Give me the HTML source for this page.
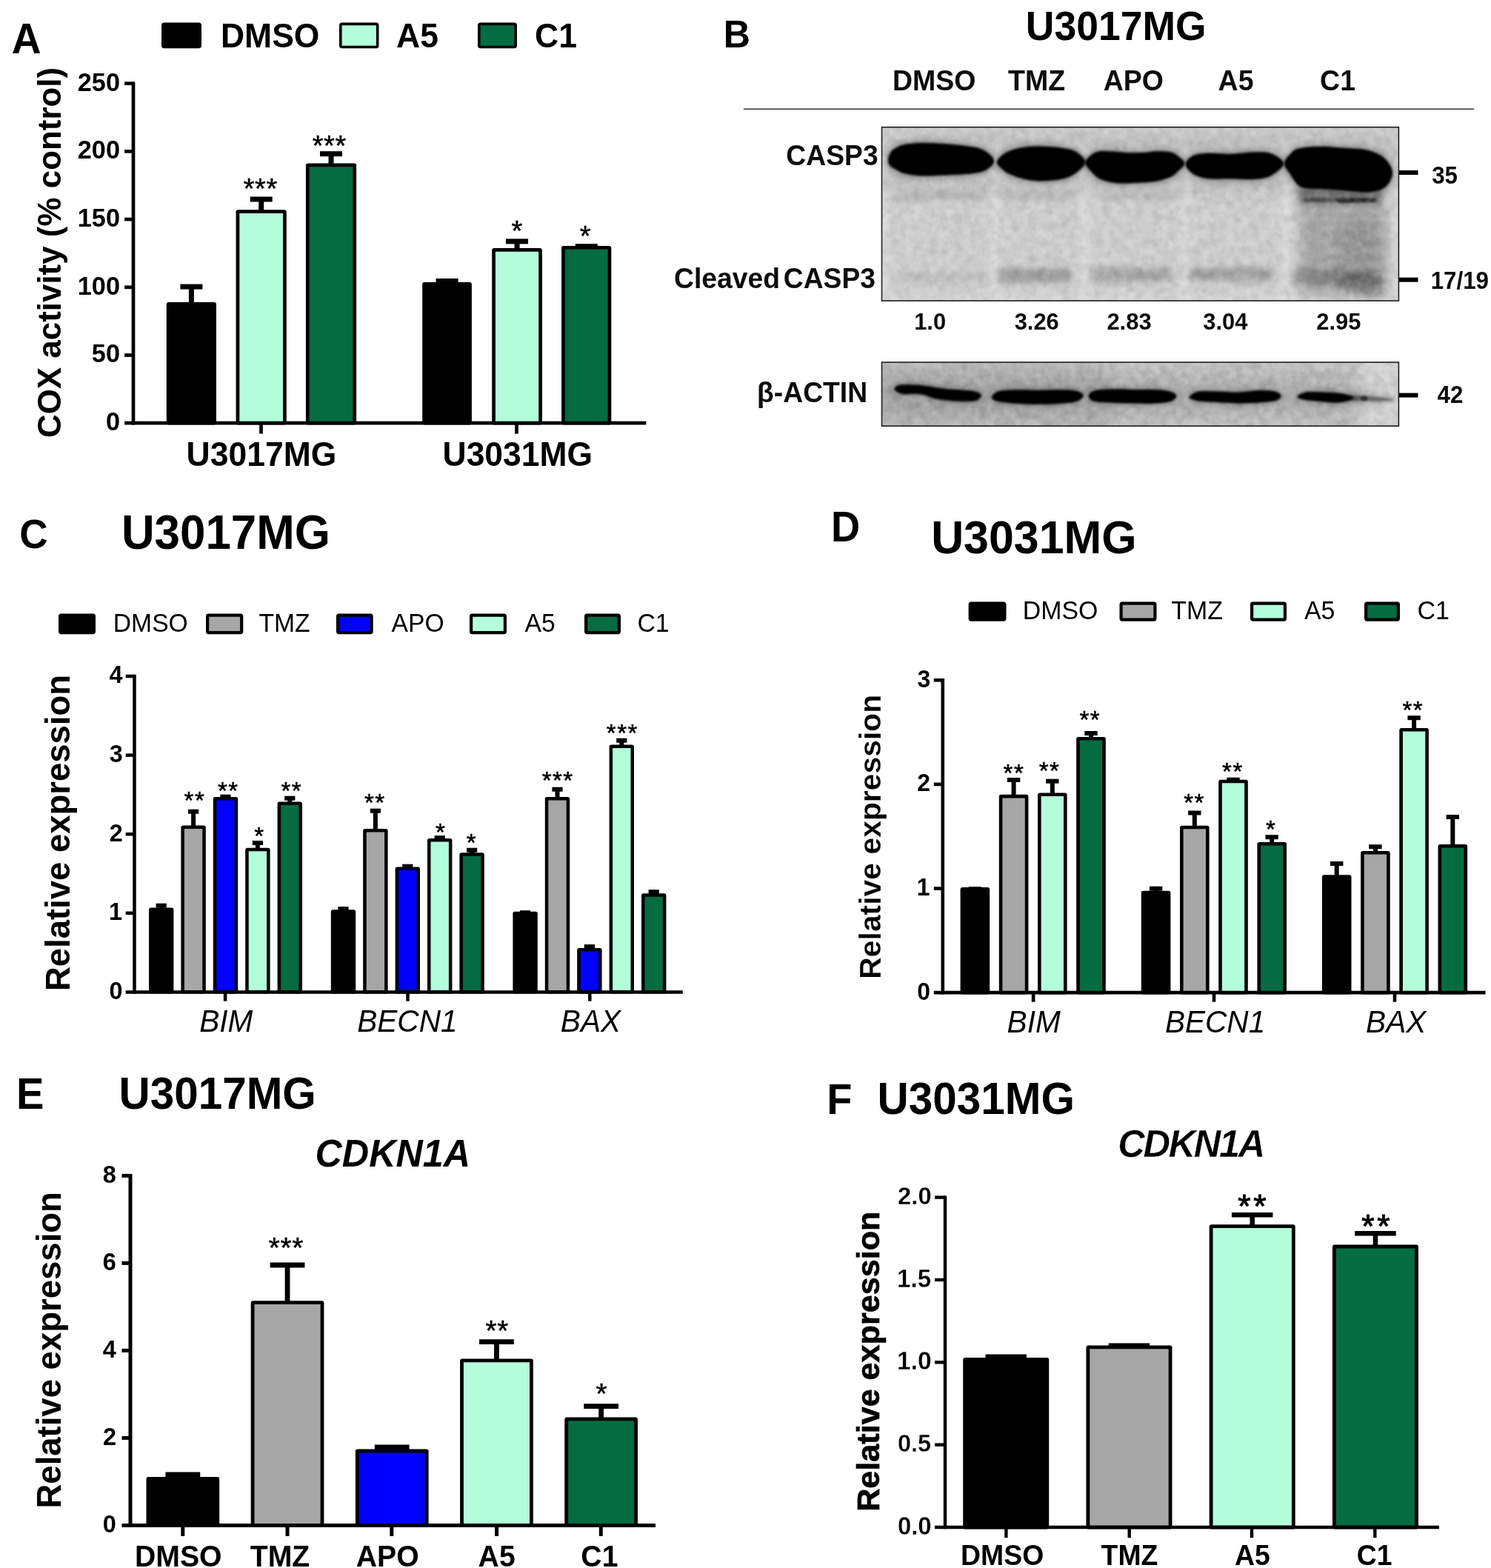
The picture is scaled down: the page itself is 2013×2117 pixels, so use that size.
<!DOCTYPE html>
<html><head><meta charset="utf-8"><title>Figure</title>
<style>
html,body{margin:0;padding:0;background:#fff;}
body{width:2013px;height:2117px;overflow:hidden;}
svg{display:block;font-family:"Liberation Sans",sans-serif;}
text{white-space:pre;}
</style></head><body>
<svg width="2013" height="2117" viewBox="0 0 2013 2117">
<rect width="2013" height="2117" fill="#fff"/>
<text transform="translate(15.67,72.00) scale(1,1.0407)" font-size="55.17" font-weight="bold" font-style="normal" fill="#000" >A</text>
<rect x="219.80" y="32.40" width="50.40" height="31.10" fill="#000000" stroke="#000" stroke-width="3.6" rx="2" stroke-linejoin="round"/>
<text transform="translate(297.95,64.13) scale(1,1.0407)" font-size="44.50" font-weight="bold" font-style="normal" fill="#000" >DMSO</text>
<rect x="459.80" y="32.40" width="49.90" height="31.10" fill="#b3fcdc" stroke="#000" stroke-width="3.6" rx="2" stroke-linejoin="round"/>
<text transform="translate(535.12,64.13) scale(1,1.0407)" font-size="44.50" font-weight="bold" font-style="normal" fill="#000" >A5</text>
<rect x="646.80" y="32.40" width="49.40" height="31.10" fill="#046b42" stroke="#000" stroke-width="3.6" rx="2" stroke-linejoin="round"/>
<text transform="translate(722.01,64.13) scale(1,1.0407)" font-size="44.50" font-weight="bold" font-style="normal" fill="#000" >C1</text>
<line x1="180.00" y1="110.40" x2="180.00" y2="573.55" stroke="#000" stroke-width="4.7" stroke-linecap="butt"/>
<line x1="168.10" y1="571.20" x2="872.30" y2="571.20" stroke="#000" stroke-width="4.7" stroke-linecap="butt"/>
<line x1="168.10" y1="479.50" x2="180.00" y2="479.50" stroke="#000" stroke-width="4.7" stroke-linecap="butt"/>
<line x1="168.10" y1="387.80" x2="180.00" y2="387.80" stroke="#000" stroke-width="4.7" stroke-linecap="butt"/>
<line x1="168.10" y1="296.10" x2="180.00" y2="296.10" stroke="#000" stroke-width="4.7" stroke-linecap="butt"/>
<line x1="168.10" y1="204.40" x2="180.00" y2="204.40" stroke="#000" stroke-width="4.7" stroke-linecap="butt"/>
<line x1="168.10" y1="112.70" x2="180.00" y2="112.70" stroke="#000" stroke-width="4.7" stroke-linecap="butt"/>
<line x1="352.50" y1="571.20" x2="352.50" y2="585.55" stroke="#000" stroke-width="4.7" stroke-linecap="butt"/>
<line x1="697.50" y1="571.20" x2="697.50" y2="585.55" stroke="#000" stroke-width="4.7" stroke-linecap="butt"/>
<text transform="translate(142.93,581.08) scale(1,1.0407)" font-size="34.30" font-weight="bold" font-style="normal" fill="#000" >0</text>
<text transform="translate(123.85,489.38) scale(1,1.0407)" font-size="34.30" font-weight="bold" font-style="normal" fill="#000" >50</text>
<text transform="translate(104.78,397.68) scale(1,1.0407)" font-size="34.30" font-weight="bold" font-style="normal" fill="#000" >100</text>
<text transform="translate(104.78,305.98) scale(1,1.0407)" font-size="34.30" font-weight="bold" font-style="normal" fill="#000" >150</text>
<text transform="translate(104.78,214.28) scale(1,1.0407)" font-size="34.30" font-weight="bold" font-style="normal" fill="#000" >200</text>
<text transform="translate(104.78,122.58) scale(1,1.0407)" font-size="34.30" font-weight="bold" font-style="normal" fill="#000" >250</text>
<text transform="translate(81.82,589.20) rotate(-90) scale(1,1.0000)" x="-1.80" y="0" font-size="43.91" font-weight="bold" font-style="normal" fill="#000">COX activity (% control)</text>
<text transform="translate(251.53,628.83) scale(1,1.0407)" font-size="44.50" font-weight="bold" font-style="normal" fill="#000" >U3017MG</text>
<text transform="translate(597.53,628.82) scale(1,1.0407)" font-size="44.46" font-weight="bold" font-style="normal" fill="#000" >U3031MG</text>
<line x1="258.40" y1="410.35" x2="258.40" y2="387.10" stroke="#000" stroke-width="7" stroke-linecap="butt"/>
<line x1="243.40" y1="387.10" x2="273.40" y2="387.10" stroke="#000" stroke-width="7" stroke-linecap="butt"/>
<rect x="227.15" y="410.35" width="62.50" height="160.80" fill="#000000" stroke="#000" stroke-width="4.7" rx="0.6" stroke-linejoin="round"/>
<line x1="352.70" y1="285.55" x2="352.70" y2="269.00" stroke="#000" stroke-width="7" stroke-linecap="butt"/>
<line x1="337.70" y1="269.00" x2="367.70" y2="269.00" stroke="#000" stroke-width="7" stroke-linecap="butt"/>
<rect x="320.95" y="285.55" width="63.50" height="285.60" fill="#b3fcdc" stroke="#000" stroke-width="4.7" rx="0.6" stroke-linejoin="round"/>
<line x1="447.00" y1="222.95" x2="447.00" y2="207.70" stroke="#000" stroke-width="7" stroke-linecap="butt"/>
<line x1="432.00" y1="207.70" x2="462.00" y2="207.70" stroke="#000" stroke-width="7" stroke-linecap="butt"/>
<rect x="415.25" y="222.95" width="63.50" height="348.20" fill="#046b42" stroke="#000" stroke-width="4.7" rx="0.6" stroke-linejoin="round"/>
<line x1="603.55" y1="383.45" x2="603.55" y2="379.50" stroke="#000" stroke-width="7" stroke-linecap="butt"/>
<line x1="588.55" y1="379.50" x2="618.55" y2="379.50" stroke="#000" stroke-width="7" stroke-linecap="butt"/>
<rect x="572.55" y="383.45" width="62.00" height="187.70" fill="#000000" stroke="#000" stroke-width="4.7" rx="0.6" stroke-linejoin="round"/>
<line x1="698.05" y1="337.45" x2="698.05" y2="325.90" stroke="#000" stroke-width="7" stroke-linecap="butt"/>
<line x1="683.05" y1="325.90" x2="713.05" y2="325.90" stroke="#000" stroke-width="7" stroke-linecap="butt"/>
<rect x="666.55" y="337.45" width="63.00" height="233.70" fill="#b3fcdc" stroke="#000" stroke-width="4.7" rx="0.6" stroke-linejoin="round"/>
<line x1="791.70" y1="334.25" x2="791.70" y2="332.70" stroke="#000" stroke-width="7" stroke-linecap="butt"/>
<line x1="776.70" y1="332.70" x2="806.70" y2="332.70" stroke="#000" stroke-width="7" stroke-linecap="butt"/>
<rect x="760.45" y="334.25" width="62.50" height="236.90" fill="#046b42" stroke="#000" stroke-width="4.7" rx="0.6" stroke-linejoin="round"/>
<text x="328.82" y="267.56" font-size="37.88" letter-spacing="0.557" fill="#000" stroke="#000" stroke-width="0.5">***</text>
<text x="421.82" y="209.56" font-size="37.88" letter-spacing="0.557" fill="#000" stroke="#000" stroke-width="0.5">***</text>
<text x="690.52" y="325.06" font-size="37.88" letter-spacing="0.557" fill="#000" stroke="#000" stroke-width="0.5">*</text>
<text x="782.72" y="331.76" font-size="37.88" letter-spacing="0.557" fill="#000" stroke="#000" stroke-width="0.5">*</text>
<text transform="translate(26.37,740.40) scale(1,1.0407)" font-size="53.21" font-weight="bold" font-style="normal" fill="#000" >C</text>
<text transform="translate(163.88,740.76) scale(1,1.0407)" font-size="61.91" font-weight="bold" font-style="normal" fill="#000" >U3017MG</text>
<rect x="81.10" y="830.70" width="45.80" height="23.40" fill="#000000" stroke="#000" stroke-width="4.2" rx="1.5" stroke-linejoin="round"/>
<text transform="translate(152.77,852.81) scale(1,1.0407)" font-size="33.70" font-weight="normal" font-style="normal" fill="#000" >DMSO</text>
<rect x="280.10" y="830.70" width="46.10" height="23.40" fill="#a6a6a6" stroke="#000" stroke-width="4.2" rx="1.5" stroke-linejoin="round"/>
<text transform="translate(349.43,852.81) scale(1,1.0407)" font-size="33.70" font-weight="normal" font-style="normal" fill="#000" >TMZ</text>
<rect x="456.10" y="830.70" width="45.50" height="23.40" fill="#0000ff" stroke="#000" stroke-width="4.2" rx="1.5" stroke-linejoin="round"/>
<text transform="translate(528.59,852.81) scale(1,1.0407)" font-size="33.70" font-weight="normal" font-style="normal" fill="#000" >APO</text>
<rect x="636.10" y="830.70" width="45.80" height="23.40" fill="#b3fcdc" stroke="#000" stroke-width="4.2" rx="1.5" stroke-linejoin="round"/>
<text transform="translate(708.56,852.81) scale(1,1.0407)" font-size="33.70" font-weight="normal" font-style="normal" fill="#000" >A5</text>
<rect x="791.10" y="830.70" width="44.80" height="23.40" fill="#046b42" stroke="#000" stroke-width="4.2" rx="1.5" stroke-linejoin="round"/>
<text transform="translate(860.43,852.81) scale(1,1.0407)" font-size="33.70" font-weight="normal" font-style="normal" fill="#000" >C1</text>
<line x1="181.50" y1="910.80" x2="181.50" y2="1341.65" stroke="#000" stroke-width="4.5" stroke-linecap="butt"/>
<line x1="169.70" y1="1339.40" x2="921.80" y2="1339.40" stroke="#000" stroke-width="4.5" stroke-linecap="butt"/>
<line x1="169.70" y1="1232.80" x2="181.50" y2="1232.80" stroke="#000" stroke-width="4.5" stroke-linecap="butt"/>
<line x1="169.70" y1="1126.20" x2="181.50" y2="1126.20" stroke="#000" stroke-width="4.5" stroke-linecap="butt"/>
<line x1="169.70" y1="1019.60" x2="181.50" y2="1019.60" stroke="#000" stroke-width="4.5" stroke-linecap="butt"/>
<line x1="169.70" y1="913.00" x2="181.50" y2="913.00" stroke="#000" stroke-width="4.5" stroke-linecap="butt"/>
<line x1="304.10" y1="1339.40" x2="304.10" y2="1351.65" stroke="#000" stroke-width="4.5" stroke-linecap="butt"/>
<line x1="550.50" y1="1339.40" x2="550.50" y2="1351.65" stroke="#000" stroke-width="4.5" stroke-linecap="butt"/>
<line x1="796.30" y1="1339.40" x2="796.30" y2="1351.65" stroke="#000" stroke-width="4.5" stroke-linecap="butt"/>
<text transform="translate(147.56,1348.80) scale(1,1.0407)" font-size="32.40" font-weight="bold" font-style="normal" fill="#000" >0</text>
<text transform="translate(146.97,1242.20) scale(1,1.0407)" font-size="32.40" font-weight="bold" font-style="normal" fill="#000" >1</text>
<text transform="translate(147.63,1135.60) scale(1,1.0407)" font-size="32.40" font-weight="bold" font-style="normal" fill="#000" >2</text>
<text transform="translate(147.75,1029.00) scale(1,1.0407)" font-size="32.40" font-weight="bold" font-style="normal" fill="#000" >3</text>
<text transform="translate(147.38,922.40) scale(1,1.0407)" font-size="32.40" font-weight="bold" font-style="normal" fill="#000" >4</text>
<text transform="translate(93.88,1335.00) rotate(-90) scale(1,1.0000)" x="-3.04" y="0" font-size="45.46" font-weight="bold" font-style="normal" fill="#000">Relative expression</text>
<text transform="translate(269.19,1392.73) scale(1,1.0407)" font-size="40.60" font-weight="normal" font-style="italic" fill="#000" >BIM</text>
<text transform="translate(482.20,1392.73) scale(1,1.0407)" font-size="40.60" font-weight="normal" font-style="italic" fill="#000" >BECN1</text>
<text transform="translate(756.87,1392.73) scale(1,1.0407)" font-size="40.60" font-weight="normal" font-style="italic" fill="#000" >BAX</text>
<line x1="217.70" y1="1227.65" x2="217.70" y2="1222.70" stroke="#000" stroke-width="6" stroke-linecap="butt"/>
<line x1="210.60" y1="1222.70" x2="224.80" y2="1222.70" stroke="#000" stroke-width="6" stroke-linecap="butt"/>
<rect x="203.25" y="1227.65" width="28.90" height="111.70" fill="#000000" stroke="#000" stroke-width="4.5" rx="0.6" stroke-linejoin="round"/>
<line x1="261.10" y1="1116.85" x2="261.10" y2="1095.70" stroke="#000" stroke-width="6" stroke-linecap="butt"/>
<line x1="254.00" y1="1095.70" x2="268.20" y2="1095.70" stroke="#000" stroke-width="6" stroke-linecap="butt"/>
<rect x="246.65" y="1116.85" width="28.90" height="222.50" fill="#a6a6a6" stroke="#000" stroke-width="4.5" rx="0.6" stroke-linejoin="round"/>
<line x1="304.50" y1="1078.35" x2="304.50" y2="1075.70" stroke="#000" stroke-width="6" stroke-linecap="butt"/>
<line x1="297.40" y1="1075.70" x2="311.60" y2="1075.70" stroke="#000" stroke-width="6" stroke-linecap="butt"/>
<rect x="290.05" y="1078.35" width="28.90" height="261.00" fill="#0000ff" stroke="#000" stroke-width="4.5" rx="0.6" stroke-linejoin="round"/>
<line x1="347.90" y1="1146.95" x2="347.90" y2="1138.00" stroke="#000" stroke-width="6" stroke-linecap="butt"/>
<line x1="340.80" y1="1138.00" x2="355.00" y2="1138.00" stroke="#000" stroke-width="6" stroke-linecap="butt"/>
<rect x="333.45" y="1146.95" width="28.90" height="192.40" fill="#b3fcdc" stroke="#000" stroke-width="4.5" rx="0.6" stroke-linejoin="round"/>
<line x1="391.30" y1="1084.85" x2="391.30" y2="1077.70" stroke="#000" stroke-width="6" stroke-linecap="butt"/>
<line x1="384.20" y1="1077.70" x2="398.40" y2="1077.70" stroke="#000" stroke-width="6" stroke-linecap="butt"/>
<rect x="376.85" y="1084.85" width="28.90" height="254.50" fill="#046b42" stroke="#000" stroke-width="4.5" rx="0.6" stroke-linejoin="round"/>
<line x1="463.50" y1="1230.55" x2="463.50" y2="1227.10" stroke="#000" stroke-width="6" stroke-linecap="butt"/>
<line x1="456.40" y1="1227.10" x2="470.60" y2="1227.10" stroke="#000" stroke-width="6" stroke-linecap="butt"/>
<rect x="449.05" y="1230.55" width="28.90" height="108.80" fill="#000000" stroke="#000" stroke-width="4.5" rx="0.6" stroke-linejoin="round"/>
<line x1="506.90" y1="1121.25" x2="506.90" y2="1094.70" stroke="#000" stroke-width="6" stroke-linecap="butt"/>
<line x1="499.80" y1="1094.70" x2="514.00" y2="1094.70" stroke="#000" stroke-width="6" stroke-linecap="butt"/>
<rect x="492.45" y="1121.25" width="28.90" height="218.10" fill="#a6a6a6" stroke="#000" stroke-width="4.5" rx="0.6" stroke-linejoin="round"/>
<line x1="550.30" y1="1172.85" x2="550.30" y2="1169.70" stroke="#000" stroke-width="6" stroke-linecap="butt"/>
<line x1="543.20" y1="1169.70" x2="557.40" y2="1169.70" stroke="#000" stroke-width="6" stroke-linecap="butt"/>
<rect x="535.85" y="1172.85" width="28.90" height="166.50" fill="#0000ff" stroke="#000" stroke-width="4.5" rx="0.6" stroke-linejoin="round"/>
<line x1="593.70" y1="1134.15" x2="593.70" y2="1131.10" stroke="#000" stroke-width="6" stroke-linecap="butt"/>
<line x1="586.60" y1="1131.10" x2="600.80" y2="1131.10" stroke="#000" stroke-width="6" stroke-linecap="butt"/>
<rect x="579.25" y="1134.15" width="28.90" height="205.20" fill="#b3fcdc" stroke="#000" stroke-width="4.5" rx="0.6" stroke-linejoin="round"/>
<line x1="637.10" y1="1153.55" x2="637.10" y2="1147.70" stroke="#000" stroke-width="6" stroke-linecap="butt"/>
<line x1="630.00" y1="1147.70" x2="644.20" y2="1147.70" stroke="#000" stroke-width="6" stroke-linecap="butt"/>
<rect x="622.65" y="1153.55" width="28.90" height="185.80" fill="#046b42" stroke="#000" stroke-width="4.5" rx="0.6" stroke-linejoin="round"/>
<line x1="709.10" y1="1232.95" x2="709.10" y2="1232.20" stroke="#000" stroke-width="6" stroke-linecap="butt"/>
<line x1="702.00" y1="1232.20" x2="716.20" y2="1232.20" stroke="#000" stroke-width="6" stroke-linecap="butt"/>
<rect x="694.65" y="1232.95" width="28.90" height="106.40" fill="#000000" stroke="#000" stroke-width="4.5" rx="0.6" stroke-linejoin="round"/>
<line x1="752.50" y1="1078.15" x2="752.50" y2="1065.70" stroke="#000" stroke-width="6" stroke-linecap="butt"/>
<line x1="745.40" y1="1065.70" x2="759.60" y2="1065.70" stroke="#000" stroke-width="6" stroke-linecap="butt"/>
<rect x="738.05" y="1078.15" width="28.90" height="261.20" fill="#a6a6a6" stroke="#000" stroke-width="4.5" rx="0.6" stroke-linejoin="round"/>
<line x1="795.90" y1="1282.15" x2="795.90" y2="1278.10" stroke="#000" stroke-width="6" stroke-linecap="butt"/>
<line x1="788.80" y1="1278.10" x2="803.00" y2="1278.10" stroke="#000" stroke-width="6" stroke-linecap="butt"/>
<rect x="781.45" y="1282.15" width="28.90" height="57.20" fill="#0000ff" stroke="#000" stroke-width="4.5" rx="0.6" stroke-linejoin="round"/>
<line x1="839.30" y1="1007.85" x2="839.30" y2="999.70" stroke="#000" stroke-width="6" stroke-linecap="butt"/>
<line x1="832.20" y1="999.70" x2="846.40" y2="999.70" stroke="#000" stroke-width="6" stroke-linecap="butt"/>
<rect x="824.85" y="1007.85" width="28.90" height="331.50" fill="#b3fcdc" stroke="#000" stroke-width="4.5" rx="0.6" stroke-linejoin="round"/>
<line x1="882.70" y1="1208.45" x2="882.70" y2="1204.10" stroke="#000" stroke-width="6" stroke-linecap="butt"/>
<line x1="875.60" y1="1204.10" x2="889.80" y2="1204.10" stroke="#000" stroke-width="6" stroke-linecap="butt"/>
<rect x="868.25" y="1208.45" width="28.90" height="130.90" fill="#046b42" stroke="#000" stroke-width="4.5" rx="0.6" stroke-linejoin="round"/>
<text x="248.61" y="1091.83" font-size="33.04" letter-spacing="1.442" fill="#000" stroke="#000" stroke-width="0.5">**</text>
<text x="294.01" y="1079.23" font-size="33.04" letter-spacing="1.442" fill="#000" stroke="#000" stroke-width="0.5">**</text>
<text x="343.26" y="1139.63" font-size="33.04" letter-spacing="1.442" fill="#000" stroke="#000" stroke-width="0.5">*</text>
<text x="379.51" y="1079.23" font-size="33.04" letter-spacing="1.442" fill="#000" stroke="#000" stroke-width="0.5">**</text>
<text x="491.91" y="1095.43" font-size="33.04" letter-spacing="1.442" fill="#000" stroke="#000" stroke-width="0.5">**</text>
<text x="588.06" y="1134.63" font-size="33.04" letter-spacing="1.442" fill="#000" stroke="#000" stroke-width="0.5">*</text>
<text x="629.86" y="1149.43" font-size="33.04" letter-spacing="1.442" fill="#000" stroke="#000" stroke-width="0.5">*</text>
<text x="731.76" y="1064.93" font-size="33.04" letter-spacing="1.442" fill="#000" stroke="#000" stroke-width="0.5">***</text>
<text x="818.86" y="1000.93" font-size="33.04" letter-spacing="1.442" fill="#000" stroke="#000" stroke-width="0.5">***</text>
<text transform="translate(1121.96,731.20) scale(1,1.0407)" font-size="54.33" font-weight="bold" font-style="normal" fill="#000" >D</text>
<text transform="translate(1257.14,747.45) scale(1,1.0407)" font-size="60.89" font-weight="bold" font-style="normal" fill="#000" >U3031MG</text>
<rect x="1309.70" y="814.60" width="46.70" height="22.00" fill="#000000" stroke="#000" stroke-width="4.2" rx="1.5" stroke-linejoin="round"/>
<text transform="translate(1380.72,836.44) scale(1,1.0407)" font-size="33.90" font-weight="normal" font-style="normal" fill="#000" >DMSO</text>
<rect x="1513.60" y="814.60" width="45.80" height="22.00" fill="#a6a6a6" stroke="#000" stroke-width="4.2" rx="1.5" stroke-linejoin="round"/>
<text transform="translate(1581.32,836.44) scale(1,1.0407)" font-size="33.90" font-weight="normal" font-style="normal" fill="#000" >TMZ</text>
<rect x="1690.10" y="814.60" width="44.80" height="22.00" fill="#b3fcdc" stroke="#000" stroke-width="4.2" rx="1.5" stroke-linejoin="round"/>
<text transform="translate(1760.95,836.44) scale(1,1.0407)" font-size="33.90" font-weight="normal" font-style="normal" fill="#000" >A5</text>
<rect x="1844.10" y="814.60" width="43.80" height="22.00" fill="#046b42" stroke="#000" stroke-width="4.2" rx="1.5" stroke-linejoin="round"/>
<text transform="translate(1913.55,836.44) scale(1,1.0407)" font-size="33.90" font-weight="normal" font-style="normal" fill="#000" >C1</text>
<line x1="1272.80" y1="916.00" x2="1272.80" y2="1342.40" stroke="#000" stroke-width="4.6" stroke-linecap="butt"/>
<line x1="1260.80" y1="1340.10" x2="2005.50" y2="1340.10" stroke="#000" stroke-width="4.6" stroke-linecap="butt"/>
<line x1="1260.80" y1="1199.50" x2="1272.80" y2="1199.50" stroke="#000" stroke-width="4.6" stroke-linecap="butt"/>
<line x1="1260.80" y1="1058.90" x2="1272.80" y2="1058.90" stroke="#000" stroke-width="4.6" stroke-linecap="butt"/>
<line x1="1260.80" y1="918.30" x2="1272.80" y2="918.30" stroke="#000" stroke-width="4.6" stroke-linecap="butt"/>
<line x1="1395.10" y1="1340.10" x2="1395.10" y2="1352.70" stroke="#000" stroke-width="4.6" stroke-linecap="butt"/>
<line x1="1639.00" y1="1340.10" x2="1639.00" y2="1352.70" stroke="#000" stroke-width="4.6" stroke-linecap="butt"/>
<line x1="1883.00" y1="1340.10" x2="1883.00" y2="1352.70" stroke="#000" stroke-width="4.6" stroke-linecap="butt"/>
<text transform="translate(1238.27,1349.50) scale(1,1.0407)" font-size="31.84" font-weight="bold" font-style="normal" fill="#000" >0</text>
<text transform="translate(1237.69,1208.90) scale(1,1.0407)" font-size="31.84" font-weight="bold" font-style="normal" fill="#000" >1</text>
<text transform="translate(1238.33,1068.30) scale(1,1.0407)" font-size="31.84" font-weight="bold" font-style="normal" fill="#000" >2</text>
<text transform="translate(1238.45,927.70) scale(1,1.0407)" font-size="31.84" font-weight="bold" font-style="normal" fill="#000" >3</text>
<text transform="translate(1188.78,1319.00) rotate(-90) scale(1,1.0000)" x="-2.73" y="0" font-size="40.88" font-weight="bold" font-style="normal" fill="#000" stroke="#fff" stroke-width="0.25">Relative expression</text>
<text transform="translate(1359.59,1393.88) scale(1,1.0407)" font-size="40.60" font-weight="normal" font-style="italic" fill="#000" >BIM</text>
<text transform="translate(1572.90,1393.88) scale(1,1.0407)" font-size="40.60" font-weight="normal" font-style="italic" fill="#000" >BECN1</text>
<text transform="translate(1844.12,1393.88) scale(1,1.0407)" font-size="40.60" font-weight="normal" font-style="italic" fill="#000" >BAX</text>
<line x1="1316.40" y1="1200.30" x2="1316.40" y2="1200.20" stroke="#000" stroke-width="6" stroke-linecap="butt"/>
<line x1="1307.70" y1="1200.20" x2="1325.10" y2="1200.20" stroke="#000" stroke-width="6" stroke-linecap="butt"/>
<rect x="1298.90" y="1200.30" width="35.00" height="139.80" fill="#000000" stroke="#000" stroke-width="4.6" rx="0.6" stroke-linejoin="round"/>
<line x1="1368.60" y1="1075.10" x2="1368.60" y2="1053.00" stroke="#000" stroke-width="6" stroke-linecap="butt"/>
<line x1="1359.90" y1="1053.00" x2="1377.30" y2="1053.00" stroke="#000" stroke-width="6" stroke-linecap="butt"/>
<rect x="1351.10" y="1075.10" width="35.00" height="265.00" fill="#a6a6a6" stroke="#000" stroke-width="4.6" rx="0.6" stroke-linejoin="round"/>
<line x1="1420.80" y1="1072.70" x2="1420.80" y2="1054.70" stroke="#000" stroke-width="6" stroke-linecap="butt"/>
<line x1="1412.10" y1="1054.70" x2="1429.50" y2="1054.70" stroke="#000" stroke-width="6" stroke-linecap="butt"/>
<rect x="1403.30" y="1072.70" width="35.00" height="267.40" fill="#b3fcdc" stroke="#000" stroke-width="4.6" rx="0.6" stroke-linejoin="round"/>
<line x1="1473.00" y1="997.20" x2="1473.00" y2="990.00" stroke="#000" stroke-width="6" stroke-linecap="butt"/>
<line x1="1464.30" y1="990.00" x2="1481.70" y2="990.00" stroke="#000" stroke-width="6" stroke-linecap="butt"/>
<rect x="1455.50" y="997.20" width="35.00" height="342.90" fill="#046b42" stroke="#000" stroke-width="4.6" rx="0.6" stroke-linejoin="round"/>
<line x1="1560.60" y1="1205.10" x2="1560.60" y2="1199.70" stroke="#000" stroke-width="6" stroke-linecap="butt"/>
<line x1="1551.90" y1="1199.70" x2="1569.30" y2="1199.70" stroke="#000" stroke-width="6" stroke-linecap="butt"/>
<rect x="1543.10" y="1205.10" width="35.00" height="135.00" fill="#000000" stroke="#000" stroke-width="4.6" rx="0.6" stroke-linejoin="round"/>
<line x1="1612.80" y1="1117.00" x2="1612.80" y2="1097.50" stroke="#000" stroke-width="6" stroke-linecap="butt"/>
<line x1="1604.10" y1="1097.50" x2="1621.50" y2="1097.50" stroke="#000" stroke-width="6" stroke-linecap="butt"/>
<rect x="1595.30" y="1117.00" width="35.00" height="223.10" fill="#a6a6a6" stroke="#000" stroke-width="4.6" rx="0.6" stroke-linejoin="round"/>
<line x1="1665.00" y1="1055.00" x2="1665.00" y2="1052.70" stroke="#000" stroke-width="6" stroke-linecap="butt"/>
<line x1="1656.30" y1="1052.70" x2="1673.70" y2="1052.70" stroke="#000" stroke-width="6" stroke-linecap="butt"/>
<rect x="1647.50" y="1055.00" width="35.00" height="285.10" fill="#b3fcdc" stroke="#000" stroke-width="4.6" rx="0.6" stroke-linejoin="round"/>
<line x1="1717.20" y1="1139.30" x2="1717.20" y2="1130.20" stroke="#000" stroke-width="6" stroke-linecap="butt"/>
<line x1="1708.50" y1="1130.20" x2="1725.90" y2="1130.20" stroke="#000" stroke-width="6" stroke-linecap="butt"/>
<rect x="1699.70" y="1139.30" width="35.00" height="200.80" fill="#046b42" stroke="#000" stroke-width="4.6" rx="0.6" stroke-linejoin="round"/>
<line x1="1804.70" y1="1183.50" x2="1804.70" y2="1166.00" stroke="#000" stroke-width="6" stroke-linecap="butt"/>
<line x1="1796.00" y1="1166.00" x2="1813.40" y2="1166.00" stroke="#000" stroke-width="6" stroke-linecap="butt"/>
<rect x="1787.20" y="1183.50" width="35.00" height="156.60" fill="#000000" stroke="#000" stroke-width="4.6" rx="0.6" stroke-linejoin="round"/>
<line x1="1856.90" y1="1151.30" x2="1856.90" y2="1143.20" stroke="#000" stroke-width="6" stroke-linecap="butt"/>
<line x1="1848.20" y1="1143.20" x2="1865.60" y2="1143.20" stroke="#000" stroke-width="6" stroke-linecap="butt"/>
<rect x="1839.40" y="1151.30" width="35.00" height="188.80" fill="#a6a6a6" stroke="#000" stroke-width="4.6" rx="0.6" stroke-linejoin="round"/>
<line x1="1909.10" y1="985.30" x2="1909.10" y2="969.20" stroke="#000" stroke-width="6" stroke-linecap="butt"/>
<line x1="1900.40" y1="969.20" x2="1917.80" y2="969.20" stroke="#000" stroke-width="6" stroke-linecap="butt"/>
<rect x="1891.60" y="985.30" width="35.00" height="354.80" fill="#b3fcdc" stroke="#000" stroke-width="4.6" rx="0.6" stroke-linejoin="round"/>
<line x1="1961.30" y1="1142.30" x2="1961.30" y2="1103.00" stroke="#000" stroke-width="6" stroke-linecap="butt"/>
<line x1="1952.60" y1="1103.00" x2="1970.00" y2="1103.00" stroke="#000" stroke-width="6" stroke-linecap="butt"/>
<rect x="1943.80" y="1142.30" width="35.00" height="197.80" fill="#046b42" stroke="#000" stroke-width="4.6" rx="0.6" stroke-linejoin="round"/>
<text x="1354.61" y="1054.73" font-size="33.04" letter-spacing="1.442" fill="#000" stroke="#000" stroke-width="0.5">**</text>
<text x="1402.71" y="1052.23" font-size="33.04" letter-spacing="1.442" fill="#000" stroke="#000" stroke-width="0.5">**</text>
<text x="1457.41" y="982.93" font-size="33.04" letter-spacing="1.442" fill="#000" stroke="#000" stroke-width="0.5">**</text>
<text x="1598.21" y="1095.23" font-size="33.04" letter-spacing="1.442" fill="#000" stroke="#000" stroke-width="0.5">**</text>
<text x="1650.11" y="1052.73" font-size="33.04" letter-spacing="1.442" fill="#000" stroke="#000" stroke-width="0.5">**</text>
<text x="1709.06" y="1131.03" font-size="33.04" letter-spacing="1.442" fill="#000" stroke="#000" stroke-width="0.5">*</text>
<text x="1893.41" y="969.73" font-size="33.04" letter-spacing="1.442" fill="#000" stroke="#000" stroke-width="0.5">**</text>
<text transform="translate(22.09,1496.80) scale(1,1.0407)" font-size="56.15" font-weight="bold" font-style="normal" fill="#000" >E</text>
<text transform="translate(160.49,1496.87) scale(1,1.0407)" font-size="58.44" font-weight="bold" font-style="normal" fill="#000" >U3017MG</text>
<text transform="translate(425.54,1574.76) scale(1,1.0407)" font-size="50.30" font-weight="bold" font-style="italic" fill="#000" >CDKN1A</text>
<line x1="176.00" y1="1585.00" x2="176.00" y2="2061.90" stroke="#000" stroke-width="5" stroke-linecap="butt"/>
<line x1="164.50" y1="2059.40" x2="885.00" y2="2059.40" stroke="#000" stroke-width="5" stroke-linecap="butt"/>
<line x1="164.50" y1="1941.40" x2="176.00" y2="1941.40" stroke="#000" stroke-width="5" stroke-linecap="butt"/>
<line x1="164.50" y1="1823.40" x2="176.00" y2="1823.40" stroke="#000" stroke-width="5" stroke-linecap="butt"/>
<line x1="164.50" y1="1705.40" x2="176.00" y2="1705.40" stroke="#000" stroke-width="5" stroke-linecap="butt"/>
<line x1="164.50" y1="1587.40" x2="176.00" y2="1587.40" stroke="#000" stroke-width="5" stroke-linecap="butt"/>
<line x1="246.80" y1="2059.40" x2="246.80" y2="2073.90" stroke="#000" stroke-width="5" stroke-linecap="butt"/>
<line x1="388.00" y1="2059.40" x2="388.00" y2="2073.90" stroke="#000" stroke-width="5" stroke-linecap="butt"/>
<line x1="528.80" y1="2059.40" x2="528.80" y2="2073.90" stroke="#000" stroke-width="5" stroke-linecap="butt"/>
<line x1="670.60" y1="2059.40" x2="670.60" y2="2073.90" stroke="#000" stroke-width="5" stroke-linecap="butt"/>
<line x1="811.30" y1="2059.40" x2="811.30" y2="2073.90" stroke="#000" stroke-width="5" stroke-linecap="butt"/>
<text transform="translate(138.82,2069.20) scale(1,1.0407)" font-size="32.54" font-weight="bold" font-style="normal" fill="#000" >0</text>
<text transform="translate(138.89,1951.20) scale(1,1.0407)" font-size="32.54" font-weight="bold" font-style="normal" fill="#000" >2</text>
<text transform="translate(138.64,1833.20) scale(1,1.0407)" font-size="32.54" font-weight="bold" font-style="normal" fill="#000" >4</text>
<text transform="translate(138.79,1715.20) scale(1,1.0407)" font-size="32.54" font-weight="bold" font-style="normal" fill="#000" >6</text>
<text transform="translate(138.78,1597.20) scale(1,1.0407)" font-size="32.54" font-weight="bold" font-style="normal" fill="#000" >8</text>
<text transform="translate(82.49,2033.50) rotate(-90) scale(1,1.0000)" x="-3.04" y="0" font-size="45.50" font-weight="bold" font-style="normal" fill="#000">Relative expression</text>
<text transform="translate(181.96,2114.58) scale(1,1.0407)" font-size="39.20" font-weight="bold" font-style="normal" fill="#000" >DMSO</text>
<text transform="translate(337.72,2114.58) scale(1,1.0407)" font-size="39.20" font-weight="bold" font-style="normal" fill="#000" >TMZ</text>
<text transform="translate(480.76,2114.58) scale(1,1.0407)" font-size="39.20" font-weight="bold" font-style="normal" fill="#000" >APO</text>
<text transform="translate(645.60,2114.58) scale(1,1.0407)" font-size="39.20" font-weight="bold" font-style="normal" fill="#000" >A5</text>
<text transform="translate(784.34,2114.58) scale(1,1.0407)" font-size="39.20" font-weight="bold" font-style="normal" fill="#000" >C1</text>
<line x1="246.85" y1="1996.40" x2="246.85" y2="1990.90" stroke="#000" stroke-width="6.8" stroke-linecap="butt"/>
<line x1="223.45" y1="1990.90" x2="270.25" y2="1990.90" stroke="#000" stroke-width="6.8" stroke-linecap="butt"/>
<rect x="199.90" y="1996.40" width="93.90" height="63.10" fill="#000000" stroke="#000" stroke-width="4.8" rx="0.6" stroke-linejoin="round"/>
<line x1="388.05" y1="1758.60" x2="388.05" y2="1708.00" stroke="#000" stroke-width="6.8" stroke-linecap="butt"/>
<line x1="364.65" y1="1708.00" x2="411.45" y2="1708.00" stroke="#000" stroke-width="6.8" stroke-linecap="butt"/>
<rect x="341.10" y="1758.60" width="93.90" height="300.90" fill="#a6a6a6" stroke="#000" stroke-width="4.8" rx="0.6" stroke-linejoin="round"/>
<line x1="529.25" y1="1959.00" x2="529.25" y2="1953.90" stroke="#000" stroke-width="6.8" stroke-linecap="butt"/>
<line x1="505.85" y1="1953.90" x2="552.65" y2="1953.90" stroke="#000" stroke-width="6.8" stroke-linecap="butt"/>
<rect x="482.30" y="1959.00" width="93.90" height="100.50" fill="#0000ff" stroke="#000" stroke-width="4.8" rx="0.6" stroke-linejoin="round"/>
<line x1="670.45" y1="1836.80" x2="670.45" y2="1811.70" stroke="#000" stroke-width="6.8" stroke-linecap="butt"/>
<line x1="647.05" y1="1811.70" x2="693.85" y2="1811.70" stroke="#000" stroke-width="6.8" stroke-linecap="butt"/>
<rect x="623.50" y="1836.80" width="93.90" height="222.70" fill="#b3fcdc" stroke="#000" stroke-width="4.8" rx="0.6" stroke-linejoin="round"/>
<line x1="811.65" y1="1915.90" x2="811.65" y2="1898.70" stroke="#000" stroke-width="6.8" stroke-linecap="butt"/>
<line x1="788.25" y1="1898.70" x2="835.05" y2="1898.70" stroke="#000" stroke-width="6.8" stroke-linecap="butt"/>
<rect x="764.70" y="1915.90" width="93.90" height="143.60" fill="#046b42" stroke="#000" stroke-width="4.8" rx="0.6" stroke-linejoin="round"/>
<text x="362.65" y="1698.15" font-size="38.74" letter-spacing="0.725" fill="#000" stroke="#000" stroke-width="0.5">***</text>
<text x="655.55" y="1810.15" font-size="38.74" letter-spacing="0.725" fill="#000" stroke="#000" stroke-width="0.5">**</text>
<text x="804.45" y="1895.45" font-size="38.74" letter-spacing="0.725" fill="#000" stroke="#000" stroke-width="0.5">*</text>
<text transform="translate(1116.25,1504.00) scale(1,1.0407)" font-size="56.01" font-weight="bold" font-style="normal" fill="#000" >F</text>
<text transform="translate(1184.49,1504.44) scale(1,1.0407)" font-size="58.48" font-weight="bold" font-style="normal" fill="#000" >U3031MG</text>
<text transform="translate(1509.23,1561.60) scale(1,1.0407)" font-size="50.56" font-weight="bold" font-style="italic" letter-spacing="-2.291" fill="#000" stroke="#fff" stroke-width="0.35" >CDKN1A</text>
<line x1="1276.00" y1="1614.40" x2="1276.00" y2="2064.20" stroke="#000" stroke-width="4.4" stroke-linecap="butt"/>
<line x1="1262.00" y1="2062.00" x2="1943.00" y2="2062.00" stroke="#000" stroke-width="4.4" stroke-linecap="butt"/>
<line x1="1262.00" y1="1950.65" x2="1276.00" y2="1950.65" stroke="#000" stroke-width="4.4" stroke-linecap="butt"/>
<line x1="1262.00" y1="1839.30" x2="1276.00" y2="1839.30" stroke="#000" stroke-width="4.4" stroke-linecap="butt"/>
<line x1="1262.00" y1="1727.95" x2="1276.00" y2="1727.95" stroke="#000" stroke-width="4.4" stroke-linecap="butt"/>
<line x1="1262.00" y1="1616.60" x2="1276.00" y2="1616.60" stroke="#000" stroke-width="4.4" stroke-linecap="butt"/>
<line x1="1358.40" y1="2062.00" x2="1358.40" y2="2076.20" stroke="#000" stroke-width="4.4" stroke-linecap="butt"/>
<line x1="1524.70" y1="2062.00" x2="1524.70" y2="2076.20" stroke="#000" stroke-width="4.4" stroke-linecap="butt"/>
<line x1="1690.00" y1="2062.00" x2="1690.00" y2="2076.20" stroke="#000" stroke-width="4.4" stroke-linecap="butt"/>
<line x1="1856.30" y1="2062.00" x2="1856.30" y2="2076.20" stroke="#000" stroke-width="4.4" stroke-linecap="butt"/>
<text transform="translate(1211.90,2071.78) scale(1,1.0407)" font-size="32.91" font-weight="bold" font-style="normal" fill="#000" stroke="#fff" stroke-width="0.3" >0.0</text>
<text transform="translate(1211.91,1960.31) scale(1,1.0407)" font-size="32.58" font-weight="bold" font-style="normal" fill="#000" stroke="#fff" stroke-width="0.3" >0.5</text>
<text transform="translate(1211.09,1849.30) scale(1,1.0407)" font-size="33.51" font-weight="bold" font-style="normal" fill="#000" stroke="#fff" stroke-width="0.3" >1.0</text>
<text transform="translate(1211.11,1737.83) scale(1,1.0407)" font-size="33.17" font-weight="bold" font-style="normal" fill="#000" stroke="#fff" stroke-width="0.3" >1.5</text>
<text transform="translate(1212.06,1626.34) scale(1,1.0407)" font-size="32.79" font-weight="bold" font-style="normal" fill="#000" stroke="#fff" stroke-width="0.3" >2.0</text>
<text transform="translate(1187.44,2037.90) rotate(-90) scale(1,1.0000)" x="-2.89" y="0" font-size="43.13" font-weight="bold" font-style="normal" fill="#000" stroke="#000" stroke-width="0.7">Relative expression</text>
<text transform="translate(1297.08,2112.99) scale(1,1.0407)" font-size="37.40" font-weight="bold" font-style="normal" fill="#000" >DMSO</text>
<text transform="translate(1486.61,2112.99) scale(1,1.0407)" font-size="37.40" font-weight="bold" font-style="normal" fill="#000" >TMZ</text>
<text transform="translate(1666.95,2112.99) scale(1,1.0407)" font-size="37.40" font-weight="bold" font-style="normal" fill="#000" >A5</text>
<text transform="translate(1831.65,2112.99) scale(1,1.0407)" font-size="37.40" font-weight="bold" font-style="normal" fill="#000" >C1</text>
<line x1="1358.20" y1="1835.30" x2="1358.20" y2="1831.75" stroke="#000" stroke-width="6.5" stroke-linecap="butt"/>
<line x1="1330.45" y1="1831.75" x2="1385.95" y2="1831.75" stroke="#000" stroke-width="6.5" stroke-linecap="butt"/>
<rect x="1302.60" y="1835.30" width="111.20" height="226.70" fill="#000000" stroke="#000" stroke-width="4.8" rx="0.6" stroke-linejoin="round"/>
<line x1="1524.45" y1="1818.80" x2="1524.45" y2="1816.75" stroke="#000" stroke-width="6.5" stroke-linecap="butt"/>
<line x1="1496.70" y1="1816.75" x2="1552.20" y2="1816.75" stroke="#000" stroke-width="6.5" stroke-linecap="butt"/>
<rect x="1468.85" y="1818.80" width="111.20" height="243.20" fill="#a6a6a6" stroke="#000" stroke-width="4.8" rx="0.6" stroke-linejoin="round"/>
<line x1="1690.70" y1="1655.60" x2="1690.70" y2="1640.25" stroke="#000" stroke-width="6.5" stroke-linecap="butt"/>
<line x1="1662.95" y1="1640.25" x2="1718.45" y2="1640.25" stroke="#000" stroke-width="6.5" stroke-linecap="butt"/>
<rect x="1635.10" y="1655.60" width="111.20" height="406.40" fill="#b3fcdc" stroke="#000" stroke-width="4.8" rx="0.6" stroke-linejoin="round"/>
<line x1="1856.95" y1="1683.00" x2="1856.95" y2="1665.25" stroke="#000" stroke-width="6.5" stroke-linecap="butt"/>
<line x1="1829.20" y1="1665.25" x2="1884.70" y2="1665.25" stroke="#000" stroke-width="6.5" stroke-linecap="butt"/>
<rect x="1801.35" y="1683.00" width="111.20" height="379.00" fill="#046b42" stroke="#000" stroke-width="4.8" rx="0.6" stroke-linejoin="round"/>
<text x="1671.14" y="1643.57" font-size="44.44" letter-spacing="3.708" fill="#000" stroke="#000" stroke-width="1.0">**</text>
<text x="1838.34" y="1670.57" font-size="44.44" letter-spacing="3.708" fill="#000" stroke="#000" stroke-width="1.0">**</text>
<text transform="translate(976.86,64.00) scale(1,1.0407)" font-size="50.14" font-weight="bold" font-style="normal" fill="#000" >B</text>
<text transform="translate(1384.79,53.56) scale(1,1.0407)" font-size="53.52" font-weight="bold" font-style="normal" fill="#000" >U3017MG</text>
<text transform="translate(1205.03,122.42) scale(1,1.0407)" font-size="37.50" font-weight="bold" font-style="normal" fill="#0a0a0a" filter="url(#tb)">DMSO</text>
<text transform="translate(1361.00,122.42) scale(1,1.0407)" font-size="37.50" font-weight="bold" font-style="normal" fill="#0a0a0a" filter="url(#tb)">TMZ</text>
<text transform="translate(1489.69,122.42) scale(1,1.0407)" font-size="37.50" font-weight="bold" font-style="normal" fill="#0a0a0a" filter="url(#tb)">APO</text>
<text transform="translate(1644.59,122.42) scale(1,1.0407)" font-size="37.50" font-weight="bold" font-style="normal" fill="#0a0a0a" filter="url(#tb)">A5</text>
<text transform="translate(1782.08,122.42) scale(1,1.0407)" font-size="37.50" font-weight="bold" font-style="normal" fill="#0a0a0a" filter="url(#tb)">C1</text>
<line x1="1004.00" y1="147.30" x2="1990.00" y2="147.30" stroke="#333" stroke-width="1.6" stroke-linecap="butt"/>
<text transform="translate(1061.37,222.50) scale(1,1.0407)" font-size="37.30" font-weight="bold" font-style="normal" fill="#0a0a0a" filter="url(#tb)">CASP3</text>
<text transform="translate(909.98,388.90) scale(1,1.0407)" font-size="37.30" font-weight="bold" font-style="normal" fill="#0a0a0a" filter="url(#tb)">Cleaved</text>
<text transform="translate(1057.77,388.90) scale(1,1.0407)" font-size="37.30" font-weight="bold" font-style="normal" fill="#0a0a0a" filter="url(#tb)">CASP3</text>
<text transform="translate(1022.04,542.85) scale(1,1.0407)" font-size="37.30" font-weight="bold" font-style="normal" fill="#0a0a0a" filter="url(#tb)">β-ACTIN</text>
<line x1="1889.00" y1="233.00" x2="1914.50" y2="233.00" stroke="#000" stroke-width="6" stroke-linecap="butt"/>
<text transform="translate(1933.17,247.96) scale(1,1.0407)" font-size="31.30" font-weight="bold" font-style="normal" fill="#0a0a0a" filter="url(#tb)">35</text>
<line x1="1889.00" y1="377.70" x2="1914.50" y2="377.70" stroke="#000" stroke-width="6" stroke-linecap="butt"/>
<text transform="translate(1931.68,389.71) scale(1,1.0407)" font-size="31.30" font-weight="bold" font-style="normal" fill="#0a0a0a" filter="url(#tb)">17/19</text>
<line x1="1889.00" y1="533.60" x2="1914.50" y2="533.60" stroke="#000" stroke-width="6" stroke-linecap="butt"/>
<text transform="translate(1940.48,543.71) scale(1,1.0407)" font-size="31.30" font-weight="bold" font-style="normal" fill="#0a0a0a" filter="url(#tb)">42</text>
<text transform="translate(1234.18,444.56) scale(1,1.0407)" font-size="30.90" font-weight="bold" font-style="normal" fill="#0a0a0a" filter="url(#tb)">1.0</text>
<text transform="translate(1369.63,444.56) scale(1,1.0407)" font-size="30.90" font-weight="bold" font-style="normal" fill="#0a0a0a" filter="url(#tb)">3.26</text>
<text transform="translate(1494.45,444.56) scale(1,1.0407)" font-size="30.90" font-weight="bold" font-style="normal" fill="#0a0a0a" filter="url(#tb)">2.83</text>
<text transform="translate(1624.36,444.56) scale(1,1.0407)" font-size="30.90" font-weight="bold" font-style="normal" fill="#0a0a0a" filter="url(#tb)">3.04</text>
<text transform="translate(1777.32,444.56) scale(1,1.0407)" font-size="30.90" font-weight="bold" font-style="normal" fill="#0a0a0a" filter="url(#tb)">2.95</text>
<defs>
<filter id="tb" x="-5%" y="-20%" width="110%" height="140%"><feGaussianBlur stdDeviation="0.55"/></filter>
<filter id="g1" x="-20%" y="-50%" width="140%" height="200%"><feGaussianBlur stdDeviation="1.6"/></filter>
<filter id="g2" x="-30%" y="-100%" width="160%" height="300%"><feGaussianBlur stdDeviation="6"/></filter>
<filter id="g3" x="-30%" y="-100%" width="160%" height="300%"><feGaussianBlur stdDeviation="4"/></filter>
<filter id="g4" x="-30%" y="-100%" width="160%" height="300%"><feGaussianBlur stdDeviation="9"/></filter>
<filter id="nz" x="0" y="0" width="100%" height="100%"><feTurbulence type="fractalNoise" baseFrequency="0.09" numOctaves="2" seed="7" result="n"/><feColorMatrix type="matrix" values="0 0 0 0 0  0 0 0 0 0  0 0 0 0 0  1.6 0 0 0 -0.55"/></filter>
<filter id="nz2" x="0" y="0" width="100%" height="100%"><feTurbulence type="fractalNoise" baseFrequency="0.09" numOctaves="2" seed="23" result="n"/><feColorMatrix type="matrix" values="0 0 0 0 1  0 0 0 0 1  0 0 0 0 1  1.6 0 0 0 -0.55"/></filter>
<clipPath id="c1"><rect x="1190.5" y="171.7" width="697.9" height="234.4"/></clipPath>
<clipPath id="c2"><rect x="1190.5" y="489.1" width="697.9" height="86.1"/></clipPath>
</defs>
<g clip-path="url(#c1)">
<rect x="1190.5" y="171.7" width="697.9" height="234.4" fill="#d9d9d9"/>
<rect x="1200.0" y="185.0" width="138.0" height="215.0" rx="4" fill="#000" opacity="0.045" filter="url(#g3)"/>
<rect x="1350.0" y="185.0" width="108.0" height="215.0" rx="4" fill="#000" opacity="0.045" filter="url(#g3)"/>
<rect x="1470.0" y="185.0" width="125.0" height="215.0" rx="4" fill="#000" opacity="0.045" filter="url(#g3)"/>
<rect x="1606.0" y="185.0" width="122.0" height="215.0" rx="4" fill="#000" opacity="0.045" filter="url(#g3)"/>
<rect x="1745.0" y="185.0" width="133.0" height="215.0" rx="4" fill="#000" opacity="0.045" filter="url(#g3)"/>
<rect x="1185.0" y="165.0" width="710.0" height="95.0" rx="4" fill="#000" opacity="0.07" filter="url(#g4)"/>
<rect x="1755.0" y="270.0" width="117.0" height="130.0" rx="4" fill="#000" opacity="0.2" filter="url(#g4)"/>
<ellipse cx="1835.0" cy="330.0" rx="30.0" ry="35.0" fill="#000" opacity="0.1" filter="url(#g4)"/>
<rect x="1207.0" y="260.0" width="123.0" height="9.0" rx="4" fill="#000" opacity="0.13" filter="url(#g3)"/>
<rect x="1355.0" y="260.0" width="90.0" height="9.0" rx="4" fill="#000" opacity="0.1" filter="url(#g3)"/>
<rect x="1487.0" y="260.0" width="103.0" height="9.0" rx="4" fill="#000" opacity="0.1" filter="url(#g3)"/>
<rect x="1212.0" y="368.0" width="118.0" height="15.0" rx="4" fill="#000" opacity="0.07" filter="url(#g3)"/>
<rect x="1347.0" y="362.0" width="100.0" height="19.0" rx="4" fill="#000" opacity="0.24" filter="url(#g3)"/>
<rect x="1474.0" y="362.0" width="109.0" height="18.0" rx="4" fill="#000" opacity="0.2" filter="url(#g3)"/>
<rect x="1605.0" y="361.0" width="114.0" height="18.0" rx="4" fill="#000" opacity="0.22" filter="url(#g3)"/>
<rect x="1745.0" y="363.0" width="123.0" height="20.0" rx="4" fill="#000" opacity="0.22" filter="url(#g3)"/>
<ellipse cx="1835.0" cy="382.0" rx="32.0" ry="12.0" fill="#000" opacity="0.22" filter="url(#g3)"/>
<ellipse cx="1850.0" cy="395.0" rx="20.0" ry="8.0" fill="#000" opacity="0.15" filter="url(#g3)"/>
<rect x="1752.0" y="252.0" width="114.0" height="24.0" rx="4" fill="#000" opacity="0.38" filter="url(#g3)"/>
<rect x="1760.0" y="267.0" width="100.0" height="6.0" rx="3" fill="#000" opacity="0.35" filter="url(#g1)"/>
<rect x="1805.0" y="268.0" width="51.0" height="5.5" rx="3" fill="#000" opacity="0.55" filter="url(#g1)"/>
<rect x="1190.5" y="171.7" width="697.9" height="234.4" filter="url(#nz)" opacity="0.10"/>
<rect x="1190.5" y="171.7" width="697.9" height="234.4" filter="url(#nz2)" opacity="0.22"/>
<path d="M1199.6,216.7C1199.7,213.7 1201.5,208.3 1203.3,205.6C1205.1,202.8 1207.5,201.7 1210.4,200.1C1213.3,198.5 1215.4,197.1 1220.5,196.1C1225.6,195.0 1234.0,194.2 1240.8,193.8C1247.5,193.5 1254.3,193.8 1261.0,194.0C1267.8,194.3 1274.5,194.9 1281.3,195.4C1288.0,196.0 1294.8,196.6 1301.5,197.5C1308.3,198.4 1316.4,199.2 1321.8,200.9C1327.2,202.6 1330.7,204.8 1333.9,207.6C1337.2,210.4 1341.4,214.5 1341.4,217.7C1341.4,220.9 1337.2,224.5 1333.9,226.8C1330.7,229.2 1327.2,230.6 1321.8,231.9C1316.4,233.2 1308.3,234.0 1301.5,234.5C1294.8,235.1 1288.0,235.0 1281.3,235.4C1274.5,235.7 1267.8,236.2 1261.0,236.4C1254.3,236.6 1247.5,237.1 1240.8,236.6C1234.0,236.1 1225.6,234.7 1220.5,233.3C1215.4,232.0 1213.4,230.1 1210.4,228.5C1207.4,226.9 1204.5,225.8 1202.7,223.8C1200.9,221.8 1199.5,219.8 1199.6,216.7Z" fill="#000" opacity="0.55" filter="url(#g2)"/>
<path d="M1346.5,218.7C1347.2,215.7 1351.9,211.1 1356.2,208.2C1360.5,205.3 1366.4,203.1 1372.4,201.5C1378.5,199.9 1385.9,199.0 1392.7,198.5C1399.4,198.0 1406.2,198.1 1412.9,198.5C1419.7,198.8 1427.1,199.6 1433.2,200.5C1439.3,201.5 1445.0,202.4 1449.4,204.2C1453.8,205.9 1457.0,208.6 1459.5,211.0C1462.1,213.5 1464.6,216.1 1464.6,218.7C1464.6,221.4 1463.1,223.6 1459.5,226.8C1456.0,230.1 1449.4,235.4 1443.3,238.0C1437.3,240.6 1429.8,241.7 1423.1,242.6C1416.3,243.6 1409.6,243.9 1402.8,243.7C1396.1,243.4 1389.3,242.6 1382.6,241.0C1375.8,239.4 1367.4,236.4 1362.3,233.9C1357.2,231.5 1354.8,229.0 1352.2,226.4C1349.5,223.9 1345.8,221.8 1346.5,218.7Z" fill="#000" opacity="0.55" filter="url(#g2)"/>
<path d="M1465.6,219.8C1465.6,216.3 1470.7,212.5 1473.7,210.0C1476.8,207.6 1478.8,205.7 1483.8,205.0C1488.9,204.2 1497.3,205.0 1504.1,205.4C1510.8,205.7 1517.6,206.8 1524.4,207.0C1531.1,207.2 1538.6,207.1 1544.6,206.8C1550.6,206.5 1554.3,205.1 1560.3,205.0C1566.2,204.9 1575.4,205.1 1580.5,206.2C1585.6,207.3 1587.6,209.2 1590.6,211.7C1593.7,214.1 1598.7,217.7 1598.7,220.8C1598.7,223.8 1593.7,227.0 1590.6,229.9C1587.6,232.8 1585.6,235.6 1580.5,238.0C1575.4,240.3 1566.2,242.8 1560.3,244.1C1554.3,245.3 1550.6,245.0 1544.6,245.5C1538.6,245.9 1531.1,246.6 1524.4,246.7C1517.6,246.8 1510.8,247.2 1504.1,246.1C1497.3,245.0 1488.9,242.5 1483.8,240.0C1478.8,237.5 1476.8,234.3 1473.7,230.9C1470.7,227.5 1465.6,223.2 1465.6,219.8Z" fill="#000" opacity="0.55" filter="url(#g2)"/>
<path d="M1601.4,221.8C1601.4,218.0 1605.9,213.4 1610.9,211.0C1615.9,208.7 1622.7,208.0 1631.2,207.6C1639.6,207.2 1651.4,208.9 1661.5,208.6C1671.7,208.4 1683.5,206.5 1691.9,206.2C1700.4,205.9 1706.4,205.7 1712.2,207.0C1717.9,208.2 1723.0,211.4 1726.4,213.7C1729.7,216.0 1732.4,218.2 1732.4,220.8C1732.4,223.3 1729.7,226.0 1726.4,228.9C1723.0,231.7 1717.9,235.9 1712.2,238.0C1706.4,240.1 1700.4,241.0 1691.9,241.4C1683.5,241.9 1671.7,240.8 1661.5,240.6C1651.4,240.5 1639.6,241.7 1631.2,240.6C1622.7,239.5 1615.9,237.1 1610.9,233.9C1605.9,230.8 1601.4,225.6 1601.4,221.8Z" fill="#000" opacity="0.55" filter="url(#g2)"/>
<path d="M1734.5,220.8C1734.5,216.4 1739.5,211.8 1742.6,208.6C1745.6,205.4 1745.9,203.2 1752.7,201.5C1759.4,199.8 1772.9,198.7 1783.1,198.5C1793.2,198.3 1803.3,199.8 1813.5,200.5C1823.6,201.3 1835.4,201.3 1843.8,202.9C1852.3,204.6 1859.0,207.7 1864.1,210.6C1869.2,213.6 1871.7,217.1 1874.2,220.8C1876.8,224.5 1879.3,228.5 1879.3,232.9C1879.3,237.3 1876.8,243.4 1874.2,247.1C1871.7,250.8 1869.2,253.3 1864.1,255.2C1859.0,257.1 1852.3,258.5 1843.8,258.6C1835.4,258.8 1823.6,257.0 1813.5,256.2C1803.3,255.5 1791.5,254.6 1783.1,254.2C1774.6,253.8 1767.9,254.4 1762.8,253.6C1757.8,252.7 1756.1,252.2 1752.7,249.1C1749.3,246.0 1745.6,239.7 1742.6,234.9C1739.5,230.2 1734.5,225.2 1734.5,220.8Z" fill="#000" opacity="0.55" filter="url(#g2)"/>
<path d="M1199.6,216.7C1199.7,213.7 1201.5,208.3 1203.3,205.6C1205.1,202.8 1207.5,201.7 1210.4,200.1C1213.3,198.5 1215.4,197.1 1220.5,196.1C1225.6,195.0 1234.0,194.2 1240.8,193.8C1247.5,193.5 1254.3,193.8 1261.0,194.0C1267.8,194.3 1274.5,194.9 1281.3,195.4C1288.0,196.0 1294.8,196.6 1301.5,197.5C1308.3,198.4 1316.4,199.2 1321.8,200.9C1327.2,202.6 1330.7,204.8 1333.9,207.6C1337.2,210.4 1341.4,214.5 1341.4,217.7C1341.4,220.9 1337.2,224.5 1333.9,226.8C1330.7,229.2 1327.2,230.6 1321.8,231.9C1316.4,233.2 1308.3,234.0 1301.5,234.5C1294.8,235.1 1288.0,235.0 1281.3,235.4C1274.5,235.7 1267.8,236.2 1261.0,236.4C1254.3,236.6 1247.5,237.1 1240.8,236.6C1234.0,236.1 1225.6,234.7 1220.5,233.3C1215.4,232.0 1213.4,230.1 1210.4,228.5C1207.4,226.9 1204.5,225.8 1202.7,223.8C1200.9,221.8 1199.5,219.8 1199.6,216.7Z" fill="#000" stroke="#000" stroke-width="1.5" filter="url(#g1)"/>
<path d="M1346.5,218.7C1347.2,215.7 1351.9,211.1 1356.2,208.2C1360.5,205.3 1366.4,203.1 1372.4,201.5C1378.5,199.9 1385.9,199.0 1392.7,198.5C1399.4,198.0 1406.2,198.1 1412.9,198.5C1419.7,198.8 1427.1,199.6 1433.2,200.5C1439.3,201.5 1445.0,202.4 1449.4,204.2C1453.8,205.9 1457.0,208.6 1459.5,211.0C1462.1,213.5 1464.6,216.1 1464.6,218.7C1464.6,221.4 1463.1,223.6 1459.5,226.8C1456.0,230.1 1449.4,235.4 1443.3,238.0C1437.3,240.6 1429.8,241.7 1423.1,242.6C1416.3,243.6 1409.6,243.9 1402.8,243.7C1396.1,243.4 1389.3,242.6 1382.6,241.0C1375.8,239.4 1367.4,236.4 1362.3,233.9C1357.2,231.5 1354.8,229.0 1352.2,226.4C1349.5,223.9 1345.8,221.8 1346.5,218.7Z" fill="#000" stroke="#000" stroke-width="1.5" filter="url(#g1)"/>
<path d="M1465.6,219.8C1465.6,216.3 1470.7,212.5 1473.7,210.0C1476.8,207.6 1478.8,205.7 1483.8,205.0C1488.9,204.2 1497.3,205.0 1504.1,205.4C1510.8,205.7 1517.6,206.8 1524.4,207.0C1531.1,207.2 1538.6,207.1 1544.6,206.8C1550.6,206.5 1554.3,205.1 1560.3,205.0C1566.2,204.9 1575.4,205.1 1580.5,206.2C1585.6,207.3 1587.6,209.2 1590.6,211.7C1593.7,214.1 1598.7,217.7 1598.7,220.8C1598.7,223.8 1593.7,227.0 1590.6,229.9C1587.6,232.8 1585.6,235.6 1580.5,238.0C1575.4,240.3 1566.2,242.8 1560.3,244.1C1554.3,245.3 1550.6,245.0 1544.6,245.5C1538.6,245.9 1531.1,246.6 1524.4,246.7C1517.6,246.8 1510.8,247.2 1504.1,246.1C1497.3,245.0 1488.9,242.5 1483.8,240.0C1478.8,237.5 1476.8,234.3 1473.7,230.9C1470.7,227.5 1465.6,223.2 1465.6,219.8Z" fill="#000" stroke="#000" stroke-width="1.5" filter="url(#g1)"/>
<path d="M1601.4,221.8C1601.4,218.0 1605.9,213.4 1610.9,211.0C1615.9,208.7 1622.7,208.0 1631.2,207.6C1639.6,207.2 1651.4,208.9 1661.5,208.6C1671.7,208.4 1683.5,206.5 1691.9,206.2C1700.4,205.9 1706.4,205.7 1712.2,207.0C1717.9,208.2 1723.0,211.4 1726.4,213.7C1729.7,216.0 1732.4,218.2 1732.4,220.8C1732.4,223.3 1729.7,226.0 1726.4,228.9C1723.0,231.7 1717.9,235.9 1712.2,238.0C1706.4,240.1 1700.4,241.0 1691.9,241.4C1683.5,241.9 1671.7,240.8 1661.5,240.6C1651.4,240.5 1639.6,241.7 1631.2,240.6C1622.7,239.5 1615.9,237.1 1610.9,233.9C1605.9,230.8 1601.4,225.6 1601.4,221.8Z" fill="#000" stroke="#000" stroke-width="1.5" filter="url(#g1)"/>
<path d="M1734.5,220.8C1734.5,216.4 1739.5,211.8 1742.6,208.6C1745.6,205.4 1745.9,203.2 1752.7,201.5C1759.4,199.8 1772.9,198.7 1783.1,198.5C1793.2,198.3 1803.3,199.8 1813.5,200.5C1823.6,201.3 1835.4,201.3 1843.8,202.9C1852.3,204.6 1859.0,207.7 1864.1,210.6C1869.2,213.6 1871.7,217.1 1874.2,220.8C1876.8,224.5 1879.3,228.5 1879.3,232.9C1879.3,237.3 1876.8,243.4 1874.2,247.1C1871.7,250.8 1869.2,253.3 1864.1,255.2C1859.0,257.1 1852.3,258.5 1843.8,258.6C1835.4,258.8 1823.6,257.0 1813.5,256.2C1803.3,255.5 1791.5,254.6 1783.1,254.2C1774.6,253.8 1767.9,254.4 1762.8,253.6C1757.8,252.7 1756.1,252.2 1752.7,249.1C1749.3,246.0 1745.6,239.7 1742.6,234.9C1739.5,230.2 1734.5,225.2 1734.5,220.8Z" fill="#000" stroke="#000" stroke-width="1.5" filter="url(#g1)"/>
</g>
<rect x="1190.5" y="171.7" width="697.9" height="234.4" fill="none" stroke="#1c1c1c" stroke-width="1.6"/>
<g clip-path="url(#c2)">
<rect x="1190.5" y="489.1" width="697.9" height="86.1" fill="#c2c2c2"/>
<rect x="1180.0" y="485.0" width="320.0" height="95.0" rx="4" fill="#000" opacity="0.06" filter="url(#g4)"/>
<rect x="1190.0" y="510.0" width="690.0" height="50.0" rx="4" fill="#000" opacity="0.1" filter="url(#g4)"/>
<rect x="1835.0" y="485.0" width="60.0" height="95.0" rx="4" fill="#fff" opacity="0.4" filter="url(#g4)"/>
<rect x="1190.5" y="489.1" width="697.9" height="86.1" filter="url(#nz)" opacity="0.13"/>
<rect x="1190.5" y="489.1" width="697.9" height="86.1" filter="url(#nz2)" opacity="0.22"/>
<path d="M1207.3,525.0C1207.5,523.5 1210.2,521.4 1212.4,520.5C1214.6,519.6 1215.8,519.6 1220.5,519.5C1225.2,519.4 1234.0,519.5 1240.8,520.1C1247.5,520.7 1254.3,522.0 1261.0,522.9C1267.8,523.9 1274.5,524.9 1281.3,525.6C1288.0,526.3 1295.5,526.4 1301.5,527.0C1307.6,527.6 1313.9,527.8 1317.7,529.0C1321.6,530.2 1324.8,532.3 1324.8,534.3C1324.8,536.2 1321.6,539.5 1317.7,540.8C1313.9,542.0 1307.6,541.8 1301.5,541.8C1295.5,541.8 1288.0,541.4 1281.3,540.8C1274.5,540.1 1267.1,539.1 1261.0,537.7C1254.9,536.3 1249.9,533.3 1244.8,532.3C1239.8,531.2 1234.7,531.7 1230.6,531.7C1226.6,531.6 1223.7,532.3 1220.5,531.9C1217.3,531.5 1213.6,530.4 1211.4,529.2C1209.2,528.1 1207.2,526.4 1207.3,525.0Z" fill="#000" opacity="0.5" filter="url(#g3)"/>
<path d="M1339.0,535.7C1340.0,533.8 1342.6,530.1 1348.1,528.6C1353.7,527.1 1363.3,526.9 1372.4,526.6C1381.5,526.3 1392.7,527.0 1402.8,527.0C1412.9,527.0 1424.8,526.4 1433.2,526.6C1441.6,526.8 1448.6,526.7 1453.5,528.0C1458.4,529.3 1462.6,532.0 1462.6,534.3C1462.6,536.6 1458.4,540.1 1453.5,541.8C1448.6,543.5 1441.6,543.7 1433.2,544.4C1424.8,545.1 1412.9,545.8 1402.8,545.8C1392.7,545.9 1380.9,545.3 1372.4,544.8C1364.0,544.3 1357.2,543.6 1352.2,542.8C1347.1,542.0 1344.2,541.1 1342.0,540.0C1339.9,538.8 1338.0,537.6 1339.0,535.7Z" fill="#000" opacity="0.5" filter="url(#g3)"/>
<path d="M1469.7,534.7C1469.7,532.3 1472.0,529.1 1477.8,527.6C1483.5,526.1 1494.6,525.8 1504.1,525.6C1513.5,525.3 1525.1,526.1 1534.5,526.2C1543.8,526.3 1552.6,525.7 1560.3,526.2C1567.9,526.7 1575.9,527.6 1580.5,529.0C1585.2,530.4 1588.2,532.6 1588.2,534.7C1588.2,536.8 1585.2,540.2 1580.5,541.8C1575.9,543.4 1567.9,544.0 1560.3,544.4C1552.6,544.9 1543.8,544.5 1534.5,544.4C1525.1,544.3 1513.5,544.2 1504.1,543.8C1494.6,543.4 1483.5,543.3 1477.8,541.8C1472.0,540.3 1469.7,537.1 1469.7,534.7Z" fill="#000" opacity="0.5" filter="url(#g3)"/>
<path d="M1605.8,535.7C1607.2,534.0 1611.1,530.2 1617.0,529.0C1622.9,527.8 1632.2,528.5 1641.3,528.6C1650.4,528.7 1661.5,529.9 1671.7,529.6C1681.8,529.4 1693.6,527.1 1702.0,527.0C1710.5,526.9 1717.7,527.7 1722.3,529.0C1726.9,530.3 1729.4,532.7 1729.4,534.7C1729.4,536.6 1726.9,539.4 1722.3,540.8C1717.7,542.2 1710.5,542.6 1702.0,543.2C1693.6,543.8 1681.8,544.5 1671.7,544.4C1661.5,544.3 1649.7,543.2 1641.3,542.8C1632.8,542.4 1626.4,542.4 1621.0,541.8C1615.6,541.1 1611.4,540.0 1608.9,538.9C1606.3,537.9 1604.5,537.4 1605.8,535.7Z" fill="#000" opacity="0.5" filter="url(#g3)"/>
<path d="M1751.7,534.7C1753.0,533.3 1757.6,530.7 1762.8,529.8C1768.0,529.0 1776.3,529.5 1783.1,529.6C1789.8,529.8 1797.3,530.1 1803.3,530.6C1809.4,531.2 1815.5,532.0 1819.5,533.1C1823.6,534.2 1827.6,535.8 1827.6,537.1C1827.6,538.5 1823.6,540.1 1819.5,541.2C1815.5,542.3 1809.4,543.7 1803.3,543.8C1797.3,543.9 1789.8,542.6 1783.1,542.0C1776.3,541.3 1767.5,540.6 1762.8,540.0C1758.1,539.3 1756.6,538.8 1754.7,537.9C1752.9,537.1 1750.3,536.0 1751.7,534.7Z" fill="#000" opacity="0.5" filter="url(#g3)"/>
<path d="M1823.6,534.3C1827.0,533.2 1837.1,533.9 1843.8,534.3C1850.6,534.6 1857.7,535.4 1864.1,536.3C1870.5,537.3 1882.3,539.0 1882.3,540.0C1882.3,540.9 1870.5,541.7 1864.1,542.0C1857.7,542.2 1850.6,541.6 1843.8,541.4C1837.1,541.2 1827.0,541.9 1823.6,540.8C1820.2,539.6 1820.2,535.4 1823.6,534.3Z" fill="#000" opacity="0.35" filter="url(#g3)"/>
<path d="M1823.6,534.3C1827.0,533.2 1837.1,533.9 1843.8,534.3C1850.6,534.6 1857.7,535.4 1864.1,536.3C1870.5,537.3 1882.3,539.0 1882.3,540.0C1882.3,540.9 1870.5,541.7 1864.1,542.0C1857.7,542.2 1850.6,541.6 1843.8,541.4C1837.1,541.2 1827.0,541.9 1823.6,540.8C1820.2,539.6 1820.2,535.4 1823.6,534.3Z" fill="#000" opacity="0.35" filter="url(#g1)"/>
<ellipse cx="1841.8" cy="538.1" rx="5.0" ry="3.0" fill="#000" opacity="0.6" filter="url(#g1)"/>
<path d="M1207.3,525.0C1207.5,523.5 1210.2,521.4 1212.4,520.5C1214.6,519.6 1215.8,519.6 1220.5,519.5C1225.2,519.4 1234.0,519.5 1240.8,520.1C1247.5,520.7 1254.3,522.0 1261.0,522.9C1267.8,523.9 1274.5,524.9 1281.3,525.6C1288.0,526.3 1295.5,526.4 1301.5,527.0C1307.6,527.6 1313.9,527.8 1317.7,529.0C1321.6,530.2 1324.8,532.3 1324.8,534.3C1324.8,536.2 1321.6,539.5 1317.7,540.8C1313.9,542.0 1307.6,541.8 1301.5,541.8C1295.5,541.8 1288.0,541.4 1281.3,540.8C1274.5,540.1 1267.1,539.1 1261.0,537.7C1254.9,536.3 1249.9,533.3 1244.8,532.3C1239.8,531.2 1234.7,531.7 1230.6,531.7C1226.6,531.6 1223.7,532.3 1220.5,531.9C1217.3,531.5 1213.6,530.4 1211.4,529.2C1209.2,528.1 1207.2,526.4 1207.3,525.0Z" fill="#000" filter="url(#g1)"/>
<path d="M1339.0,535.7C1340.0,533.8 1342.6,530.1 1348.1,528.6C1353.7,527.1 1363.3,526.9 1372.4,526.6C1381.5,526.3 1392.7,527.0 1402.8,527.0C1412.9,527.0 1424.8,526.4 1433.2,526.6C1441.6,526.8 1448.6,526.7 1453.5,528.0C1458.4,529.3 1462.6,532.0 1462.6,534.3C1462.6,536.6 1458.4,540.1 1453.5,541.8C1448.6,543.5 1441.6,543.7 1433.2,544.4C1424.8,545.1 1412.9,545.8 1402.8,545.8C1392.7,545.9 1380.9,545.3 1372.4,544.8C1364.0,544.3 1357.2,543.6 1352.2,542.8C1347.1,542.0 1344.2,541.1 1342.0,540.0C1339.9,538.8 1338.0,537.6 1339.0,535.7Z" fill="#000" filter="url(#g1)"/>
<path d="M1469.7,534.7C1469.7,532.3 1472.0,529.1 1477.8,527.6C1483.5,526.1 1494.6,525.8 1504.1,525.6C1513.5,525.3 1525.1,526.1 1534.5,526.2C1543.8,526.3 1552.6,525.7 1560.3,526.2C1567.9,526.7 1575.9,527.6 1580.5,529.0C1585.2,530.4 1588.2,532.6 1588.2,534.7C1588.2,536.8 1585.2,540.2 1580.5,541.8C1575.9,543.4 1567.9,544.0 1560.3,544.4C1552.6,544.9 1543.8,544.5 1534.5,544.4C1525.1,544.3 1513.5,544.2 1504.1,543.8C1494.6,543.4 1483.5,543.3 1477.8,541.8C1472.0,540.3 1469.7,537.1 1469.7,534.7Z" fill="#000" filter="url(#g1)"/>
<path d="M1605.8,535.7C1607.2,534.0 1611.1,530.2 1617.0,529.0C1622.9,527.8 1632.2,528.5 1641.3,528.6C1650.4,528.7 1661.5,529.9 1671.7,529.6C1681.8,529.4 1693.6,527.1 1702.0,527.0C1710.5,526.9 1717.7,527.7 1722.3,529.0C1726.9,530.3 1729.4,532.7 1729.4,534.7C1729.4,536.6 1726.9,539.4 1722.3,540.8C1717.7,542.2 1710.5,542.6 1702.0,543.2C1693.6,543.8 1681.8,544.5 1671.7,544.4C1661.5,544.3 1649.7,543.2 1641.3,542.8C1632.8,542.4 1626.4,542.4 1621.0,541.8C1615.6,541.1 1611.4,540.0 1608.9,538.9C1606.3,537.9 1604.5,537.4 1605.8,535.7Z" fill="#000" filter="url(#g1)"/>
<path d="M1751.7,534.7C1753.0,533.3 1757.6,530.7 1762.8,529.8C1768.0,529.0 1776.3,529.5 1783.1,529.6C1789.8,529.8 1797.3,530.1 1803.3,530.6C1809.4,531.2 1815.5,532.0 1819.5,533.1C1823.6,534.2 1827.6,535.8 1827.6,537.1C1827.6,538.5 1823.6,540.1 1819.5,541.2C1815.5,542.3 1809.4,543.7 1803.3,543.8C1797.3,543.9 1789.8,542.6 1783.1,542.0C1776.3,541.3 1767.5,540.6 1762.8,540.0C1758.1,539.3 1756.6,538.8 1754.7,537.9C1752.9,537.1 1750.3,536.0 1751.7,534.7Z" fill="#000" filter="url(#g1)"/>
</g>
<rect x="1190.5" y="489.1" width="697.9" height="86.1" fill="none" stroke="#1c1c1c" stroke-width="1.6"/>
</svg>
</body></html>
